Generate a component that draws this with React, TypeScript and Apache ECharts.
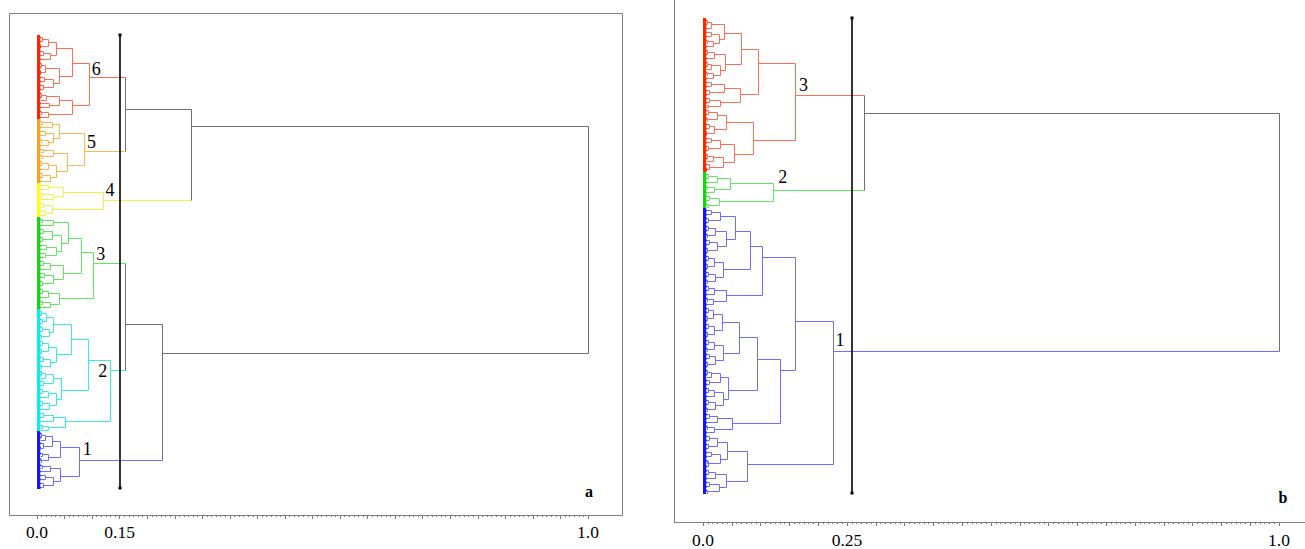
import React, { useEffect, useRef } from 'react';
import * as echarts from 'echarts';

type Node = number | string | [number, Node, Node];

// ---------------- Panel a ----------------
const axisTickValuesA = [0, 0.15, 1.0];
const axisTickTextsA = ['0.0', '0.15', '1.0'];
const cutHeightA = 0.15;
const leafBandA = 0.006;
const topTreeA: Node = [1.0, [0.281, [0.16, '6', '5'], '4'], [0.228, [0.16, '3', '2'], '1']];

const clusterA6: Node = [0.095,
  [0.064,
    [0.036, [0.020, [0.010, 2, 2], 3], [0.025, [0.012, 2, 2], 2]],
    [0.041, [0.015, [0.008, 2, 2], 3], [0.030, [0.014, 2, 2], [0.011, 2, 2]]]],
  [0.064,
    [0.040, [0.018, [0.009, 2, 2], 1], [0.022, 2, 2]],
    [0.020, [0.008, 2, 1], 2]]];

const clusterA5: Node = [0.087,
  [0.041, [0.028, [0.010, 2, 1], 2], [0.030, [0.015, 2, 2], [0.020, [0.008, 2, 1], 2]]],
  [0.056, [0.030, [0.012, 2, 1], [0.010, 2, 1]], [0.036, [0.020, [0.009, 2, 2], 2], [0.024, [0.010, 2, 2], 2]]]];

const clusterA4: Node = [0.120,
  [0.048, [0.020, 2, 2], [0.030, [0.010, 2, 1], 2]],
  [0.028, [0.012, 2, 2], [0.015, 2, 2]]];

const clusterA3: Node = [0.102,
  [0.081,
    [0.057, [0.030, [0.010, 2, 1], 2], [0.045, [0.028, [0.012, 2, 2], [0.010, 2, 2]], [0.035, [0.018, 2, 2], [0.015, 2, 2]]]],
    [0.048, [0.025, [0.012, 2, 2], 2], [0.030, [0.014, 2, 2], [0.010, 2, 2]]]],
  [0.041, [0.020, [0.010, 2, 2], 2], [0.025, [0.010, 2, 1], 2]]];

const clusterA2: Node = [0.134,
  [0.093,
    [0.062,
      [0.030, [0.018, [0.008, 2, 2], [0.010, 2, 2]], [0.022, [0.010, 2, 2], [0.008, 2, 1]]],
      [0.036, [0.020, [0.010, 2, 2], [0.008, 2, 2]], [0.025, [0.012, 2, 2], [0.009, 2, 1]]]],
    [0.044,
      [0.030, [0.015, [0.008, 2, 2], 1], [0.012, 2, 2]],
      [0.035, [0.020, [0.010, 2, 2], 2], [0.022, [0.010, 2, 2], 2]]]],
  [0.051, [0.030, [0.012, 2, 2], 2], [0.020, [0.010, 2, 1], 1]]];

const clusterA1: Node = [0.077,
  [0.042, [0.028, [0.015, [0.008, 2, 2], 1], [0.012, 2, [0.007, 2, 1]]], [0.020, [0.010, 2, 1], [0.008, 2, 1]]],
  [0.042, [0.025, [0.010, 2, 1], 2], [0.030, [0.015, 2, 2], [0.012, 2, 2]]]];

// ---------------- Panel b ----------------
const axisTickValuesB = [0, 0.25, 1.0];
const axisTickTextsB = ['0.0', '0.25', '1.0'];
const cutHeightB = 0.258;
const leafBandB = 0.006;
const topTreeB: Node = [1.0, [0.281, '3', '2'], '1'];

const clusterB3: Node = [0.160,
  [0.097,
    [0.066,
      [0.037, [0.015, [0.008, 2, 2], 2], [0.028, [0.014, 2, 2], [0.018, [0.007, 2, 1], 2]]],
      [0.039, [0.020, [0.008, 2, 2], 2], [0.030, [0.015, [0.007, 2, 2], 1], [0.018, [0.008, 2, 1], 2]]]],
    [0.065, [0.037, [0.015, 2, 2], [0.012, 2, 2]], [0.030, [0.012, 2, 2], [0.010, 1, 1]]]],
  [0.087,
    [0.041, [0.025, [0.010, 2, 2], [0.008, 2, 1]], [0.020, [0.012, 2, 2], 3]],
    [0.055, [0.030, [0.015, 2, 2], [0.010, 2, 2]], [0.036, [0.018, [0.008, 2, 2], 1], [0.012, 2, 3]]]]];

const clusterB2: Node = [0.122,
  [0.048, [0.025, [0.010, 2, 2], 2], [0.020, [0.008, 2, 1], 2]],
  [0.029, [0.012, 2, 2], [0.010, 2, 1]]];

const clusterB1: Node = [0.227,
  [0.160,
    [0.103,
      [0.082,
        [0.057,
          [0.030, [0.015, 2, 2], [0.010, 2, 2]],
          [0.040, [0.022, [0.010, 2, 2], [0.008, 2, 1]], [0.025, [0.012, 2, 2], [0.008, 2, 2]]]],
        [0.036, [0.020, [0.010, 2, 2], [0.008, 2, 2]], [0.022, [0.010, 2, 2], [0.007, 2, 1]]]],
      [0.041, [0.020, [0.010, 2, 2], 2], [0.018, [0.008, 2, 1], 2]]],
    [0.135,
      [0.095,
        [0.063,
          [0.033, [0.018, [0.010, 2, 2], [0.008, 2, 2]], [0.020, [0.010, 2, 2], [0.008, 2, 2]]],
          [0.035, [0.020, [0.010, 2, 2], [0.007, 2, 1]], [0.022, [0.012, 2, 2], [0.008, 2, 2]]]],
        [0.044,
          [0.030, [0.015, [0.007, 2, 2], 1], [0.012, 2, 2]],
          [0.036, [0.020, [0.010, 2, 2], 2], [0.022, [0.010, 2, 2], [0.007, 2, 1]]]]],
      [0.051, [0.025, [0.012, 2, 2], 2], [0.020, [0.008, 2, 1], 2]]]],
  [0.077,
    [0.043, [0.025, [0.012, 2, 2], [0.010, 2, 2]], [0.030, [0.015, 2, 2], [0.010, [0.007, 2, 1], 2]]],
    [0.041, [0.022, [0.010, 2, 2], 2], [0.028, [0.012, 2, 2], [0.008, 2, 1]]]]];

// ---------------- Styles ----------------
const FONT = 'Liberation Serif, Times New Roman, Times, serif';
// 0 gray, then (line, leaf) pairs: red, orange, yellow, green, cyan, blue
const palette = ['#707070',
  '#ff6f55', '#ff2400',
  '#ffb650', '#ff9e18',
  '#f2f244', '#ffff14',
  '#64e864', '#12d812',
  '#3aeaea', '#00f0f0',
  '#6e6eff', '#1414ff'];
const clusterColorA: Record<string, number> = { '6': 1, '5': 3, '4': 5, '3': 7, '2': 9, '1': 11 };
const clusterColorB: Record<string, number> = { '3': 1, '2': 7, '1': 11 };
const labelOffsetA: Record<string, number[]> = { '6': [7, -8], '5': [6.5, -9], '4': [7, -10], '3': [7.5, -9], '2': [-8, 0.7], '1': [7.7, -11] };
const labelOffsetB: Record<string, number[]> = { '3': [8.3, -10.3], '2': [9.5, -13.5], '1': [6.3, -11.3] };

type Seg = { x1: number; y1: number; x2: number; y2: number; color: string; width: number };

function buildDendrogram(top: Node, clusters: Record<string, Node>, colors: Record<string, number>, band: number) {
  const segs: Seg[] = [];
  const roots: { h: number; y: number; name: string }[] = [];
  let cursor = 0;
  const add = (x1: number, y1: number, x2: number, y2: number, ci: number, width: number) =>
    segs.push({ x1, y1, x2, y2, color: palette[ci], width });
  const walk = (node: Node, color: number): { y: number; h: number; c: number } => {
    if (typeof node === 'string') {
      const c = colors[node];
      const r = walk(clusters[node], c);
      roots.push({ h: r.h, y: r.y, name: node });
      return r;
    }
    if (typeof node === 'number') {
      const start = cursor;
      for (let i = 0; i < node; i++) add(0, start + i, band, start + i, color + 1, 2);
      if (node > 1) add(band, start, band, start + node - 1, color + 1, 1);
      cursor += node;
      return { y: start + (node - 1) / 2, h: band, c: color };
    }
    const [h, left, right] = node;
    const start = cursor;
    const a = walk(left, color);
    const b = walk(right, color);
    add(a.h, a.y, h, a.y, a.c, 1);
    add(b.h, b.y, h, b.y, b.c, 1);
    add(h, a.y, h, b.y, color, 1);
    return { y: (start + cursor - 1) / 2, h, c: color };
  };
  walk(top, 0);
  return { segs, roots, count: cursor };
}

const makeSegRender = (segs: Seg[]) => (params: any, api: any) => {
  const s = segs[params.dataIndex];
  const p1 = api.coord([s.x1, s.y1]);
  const p2 = api.coord([s.x2, s.y2]);
  const snap = (v: number) => (s.width === 1 ? Math.floor(v) + 0.5 : Math.round(v));
  return {
    type: 'line',
    shape: { x1: snap(p1[0]), y1: snap(p1[1]), x2: snap(p2[0]), y2: snap(p2[1]) },
    style: { stroke: s.color, lineWidth: s.width, fill: null },
  };
};

const makeLabelRender = (roots: { h: number; y: number; name: string }[], offsets: Record<string, number[]>) => (params: any, api: any) => {
  const r = roots[params.dataIndex];
  const p = api.coord([r.h, r.y]);
  const off = offsets[r.name] || [6, -10];
  return {
    type: 'text',
    x: p[0] + off[0],
    y: p[1] + off[1],
    style: { text: r.name, fill: '#000', fontSize: 18, fontFamily: FONT, align: 'center', verticalAlign: 'middle' },
  };
};

const cutRender = (params: any, api: any) => {
  const p1 = api.coord([api.value(0), api.value(1)]);
  const p2 = api.coord([api.value(0), api.value(2)]);
  const x = Math.round(p1[0]);
  return {
    type: 'group',
    children: [
      { type: 'line', shape: { x1: x, y1: p1[1], x2: x, y2: p2[1] }, style: { stroke: '#000', lineWidth: 1.6 } },
      { type: 'rect', shape: { x: x - 1.5, y: p1[1] - 1.5, width: 3, height: 3 }, style: { fill: '#000' } },
      { type: 'rect', shape: { x: x - 1.5, y: p2[1] - 1.5, width: 3, height: 3 }, style: { fill: '#000' } },
    ],
  };
};

const makeFormatter = (vals: number[], texts: string[]) => (v: number) => {
  for (let i = 0; i < vals.length; i++) if (Math.abs(v - vals[i]) < 1e-6) return texts[i];
  return '';
};

const makeXAxis = (gridIndex: number, offset: number, vals: number[], texts: string[], margin: number) => ({
  gridIndex,
  type: 'value',
  min: 0,
  max: 1,
  interval: 0.05,
  offset,
  position: 'bottom',
  axisLine: { show: false, onZero: false },
  axisTick: { show: true, length: 4, inside: false, lineStyle: { color: '#7a7a7a', width: 1 } },
  minorTick: { show: true, splitNumber: 6, length: 2, lineStyle: { color: '#7a7a7a', width: 1 } },
  splitLine: { show: false },
  minorSplitLine: { show: false },
  axisLabel: {
    show: true,
    interval: 0,
    margin,
    hideOverlap: false,
    showMinLabel: true,
    showMaxLabel: true,
    color: '#000',
    fontSize: 17.5,
    fontFamily: FONT,
    formatter: makeFormatter(vals, texts),
  },
});

export default function App() {
  const ref = useRef<HTMLDivElement>(null);
  useEffect(() => {
    if (!ref.current) return;
    const chart = echarts.init(ref.current, undefined, { renderer: 'svg' });
    const dA = buildDendrogram(topTreeA, { '1': clusterA1, '2': clusterA2, '3': clusterA3, '4': clusterA4, '5': clusterA5, '6': clusterA6 }, clusterColorA, leafBandA);
    const dB = buildDendrogram(topTreeB, { '1': clusterB1, '2': clusterB2, '3': clusterB3 }, clusterColorB, leafBandB);
    const segData = (segs: Seg[]) => segs.map((s) => [s.x1, s.y1, s.x2, s.y2]);
    const rootData = (roots: { h: number; y: number }[]) => roots.map((r) => [r.h, r.y]);

    const option: any = {
      animation: false,
      backgroundColor: '#fff',
      grid: [
        { left: 37, width: 551, top: 36, height: 452, outerBoundsMode: 'none', containLabel: false },
        { left: 703, width: 576, top: 19, height: 474, outerBoundsMode: 'none', containLabel: false },
      ],
      xAxis: [
        makeXAxis(0, 27, axisTickValuesA, axisTickTextsA, 8),
        makeXAxis(1, 29, axisTickValuesB, axisTickTextsB, 9),
      ],
      yAxis: [
        { gridIndex: 0, type: 'value', min: 0, max: dA.count - 1, inverse: true, show: false },
        { gridIndex: 1, type: 'value', min: 0, max: dB.count - 1, inverse: true, show: false },
      ],
      graphic: [
        { type: 'rect', shape: { x: 9.5, y: 13.5, width: 613, height: 502 }, style: { fill: 'none', stroke: '#808080', lineWidth: 1 }, silent: true },
        { type: 'line', shape: { x1: 674.5, y1: -2, x2: 674.5, y2: 522.5 }, style: { stroke: '#808080', lineWidth: 1 }, silent: true },
        { type: 'line', shape: { x1: 674, y1: 522.5, x2: 1310, y2: 522.5 }, style: { stroke: '#808080', lineWidth: 1 }, silent: true },
        { type: 'text', x: 589, y: 491, style: { text: 'a', fill: '#000', fontSize: 16, fontWeight: 'bold', fontFamily: FONT, align: 'center', verticalAlign: 'middle' } },
        { type: 'text', x: 1283, y: 497, style: { text: 'b', fill: '#000', fontSize: 16, fontWeight: 'bold', fontFamily: FONT, align: 'center', verticalAlign: 'middle' } },
      ],
      series: [
        { type: 'custom', xAxisIndex: 0, yAxisIndex: 0, clip: false, renderItem: makeSegRender(dA.segs), encode: { x: [0, 2], y: [1, 3] }, data: segData(dA.segs), silent: true },
        { type: 'custom', xAxisIndex: 0, yAxisIndex: 0, clip: false, renderItem: cutRender, encode: { x: 0, y: [1, 2] }, data: [[cutHeightA, -0.5, dA.count - 1]], silent: true },
        { type: 'custom', xAxisIndex: 0, yAxisIndex: 0, clip: false, renderItem: makeLabelRender(dA.roots, labelOffsetA), encode: { x: 0, y: 1 }, data: rootData(dA.roots), silent: true },
        { type: 'custom', xAxisIndex: 1, yAxisIndex: 1, clip: false, renderItem: makeSegRender(dB.segs), encode: { x: [0, 2], y: [1, 3] }, data: segData(dB.segs), silent: true },
        { type: 'custom', xAxisIndex: 1, yAxisIndex: 1, clip: false, renderItem: cutRender, encode: { x: 0, y: [1, 2] }, data: [[cutHeightB, -0.5, dB.count - 1]], silent: true },
        { type: 'custom', xAxisIndex: 1, yAxisIndex: 1, clip: false, renderItem: makeLabelRender(dB.roots, labelOffsetB), encode: { x: 0, y: 1 }, data: rootData(dB.roots), silent: true },
      ],
    };
    chart.setOption(option);
    return () => chart.dispose();
  }, []);
  return <div ref={ref} style={{ position: 'fixed', left: 0, top: 0, width: 1305, height: 549, background: '#fff' }} />;
}
